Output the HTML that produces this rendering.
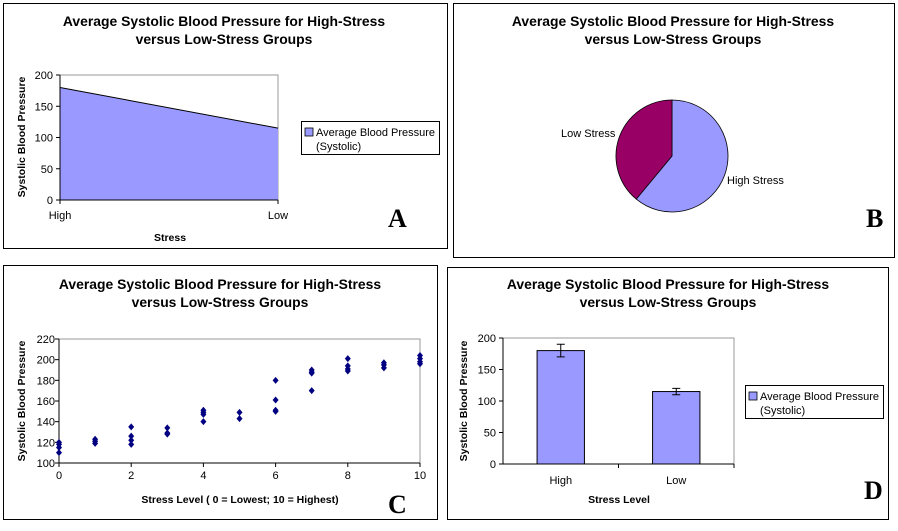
<!DOCTYPE html>
<html><head><meta charset="utf-8"><style>
body{margin:0;background:#fff;width:898px;height:526px;overflow:hidden}
svg{font-family:"Liberation Sans",Arial,sans-serif}
.t{font-weight:bold;font-size:13.9px;text-anchor:middle}
.k{font-size:11px}
.ax{font-weight:bold;font-size:10.5px}
.L{font-family:"Liberation Serif",serif;font-weight:bold;font-size:26px}
</style></head><body>
<svg id="s" width="898" height="526" xmlns="http://www.w3.org/2000/svg">
<g>
<rect x="3.5" y="3.5" width="444" height="245" fill="none" stroke="#000"/>
<text class="t" x="224" y="26">Average Systolic Blood Pressure for High-Stress</text>
<text class="t" x="224" y="44">versus Low-Stress Groups</text>
<g id="a"></g>
<rect x="301.5" y="121.5" width="138" height="33" fill="#fff" stroke="#000"/>
<rect x="305" y="128" width="8" height="8" fill="#9999ff" stroke="#000" stroke-width="0.8"/>
<text class="k" x="316" y="136">Average Blood Pressure</text>
<text class="k" x="316" y="150">(Systolic)</text>
<text class="ax" x="170" y="241" text-anchor="middle">Stress</text>
<text class="ax" transform="translate(25,137) rotate(-90)" text-anchor="middle">Systolic Blood Pressure</text>
<text class="L" x="388" y="227">A</text>
</g>
<g>
<rect x="453.5" y="3.5" width="441" height="254" fill="none" stroke="#000"/>
<text class="t" x="673" y="26">Average Systolic Blood Pressure for High-Stress</text>
<text class="t" x="673" y="44">versus Low-Stress Groups</text>
<g id="b"></g>
<text class="k" x="561" y="137">Low Stress</text>
<text class="k" x="727" y="184">High Stress</text>
<text class="L" x="866" y="227">B</text>
</g>
<g>
<rect x="3.5" y="265.5" width="434" height="254" fill="none" stroke="#000"/>
<text class="t" x="220" y="289">Average Systolic Blood Pressure for High-Stress</text>
<text class="t" x="220" y="307">versus Low-Stress Groups</text>
<g id="c"></g>
<text class="ax" x="240" y="503" text-anchor="middle">Stress Level  ( 0 = Lowest; 10 = Highest)</text>
<text class="ax" transform="translate(25,401) rotate(-90)" text-anchor="middle">Systolic Blood Pressure</text>
<text class="L" x="388" y="513">C</text>
</g>
<g>
<rect x="447.5" y="267.5" width="441" height="252" fill="none" stroke="#000"/>
<text class="t" x="668" y="289">Average Systolic Blood Pressure for High-Stress</text>
<text class="t" x="668" y="307">versus Low-Stress Groups</text>
<g id="d"></g>
<rect x="745.5" y="385.5" width="138" height="33" fill="#fff" stroke="#000"/>
<rect x="749" y="392" width="8" height="8" fill="#9999ff" stroke="#000" stroke-width="0.8"/>
<text class="k" x="760" y="400">Average Blood Pressure</text>
<text class="k" x="760" y="414">(Systolic)</text>
<text class="ax" x="619" y="503" text-anchor="middle">Stress Level</text>
<text class="ax" transform="translate(467,401) rotate(-90)" text-anchor="middle">Systolic Blood Pressure</text>
<text class="L" x="864" y="499">D</text>
</g>
</svg>
<script>
const groups=["High","Low"];
const avgBP=[180,115];
const errBP=[10,5];
const axTicksA=[0,50,100,150,200];
const stressX=[0,0,0,0,1,1,1,2,2,2,2,3,3,3,4,4,4,4,5,5,6,6,6,6,7,7,7,7,8,8,8,8,9,9,9,10,10,10,10];
const stressY=[120,118,115,110,123,121,119,135,126,122,118,134,129,128,151,149,147,140,149,143,180,161,151,150,190,188,187,170,201,194,191,189,197,195,192,204,201,198,196];
const xTicksC=[0,2,4,6,8,10];
const yTicksC=[100,120,140,160,180,200,220];
const pieLabels=["High Stress","Low Stress"];
const NS="http://www.w3.org/2000/svg";
function mk(p,t,a){const e=document.createElementNS(NS,t);for(const k in a)e.setAttribute(k,a[k]);p.appendChild(e);return e;}
function txt(p,x,y,s,anc){const e=mk(p,"text",{x:x,y:y,class:"k","text-anchor":anc||"middle"});e.textContent=s;return e;}
// Panel A
(function(){const g=document.getElementById("a");const x0=60,x1=278,yb=200,yt=75;
const ys=v=>yb-(v/200)*(yb-yt);const xs=i=>x0+i*(x1-x0)/(groups.length-1);
mk(g,"rect",{x:x0,y:yt,width:x1-x0,height:yb-yt,fill:"none",stroke:"#999"});
let d="M"+xs(0)+","+yb;groups.forEach((c,i)=>d+=" L"+xs(i)+","+ys(avgBP[i]));d+=" L"+xs(groups.length-1)+","+yb+"Z";
const ar=mk(g,"path",{d:d,fill:"#9999ff"});


let l="";groups.forEach((c,i)=>l+=(i?" L":"M")+xs(i)+","+ys(avgBP[i]));mk(g,"path",{d:l,fill:"none",stroke:"#000"});
mk(g,"line",{x1:x0,y1:yt,x2:x0,y2:yb,stroke:"#000"});mk(g,"line",{x1:x0,y1:yb,x2:x1,y2:yb,stroke:"#000"});
axTicksA.forEach(v=>{mk(g,"line",{x1:x0-4,y1:ys(v),x2:x0,y2:ys(v),stroke:"#000"});txt(g,x0-7,ys(v)+4,v,"end");});
groups.forEach((c,i)=>{mk(g,"line",{x1:xs(i),y1:yb,x2:xs(i),y2:yb+4,stroke:"#000"});txt(g,xs(i),yb+19,c);});})();
// Panel B
(function(){const g=document.getElementById("b");const cx=672,cy=156,r=56;const tot=avgBP.reduce((a,b)=>a+b,0);
const cols=["#9999ff","#990066"];let a=0;
avgBP.forEach((v,i)=>{const a2=a+v/tot*2*Math.PI;const p1=[cx+r*Math.sin(a),cy-r*Math.cos(a)],p2=[cx+r*Math.sin(a2),cy-r*Math.cos(a2)];
const s=mk(g,"path",{d:`M${cx},${cy} L${p1[0]},${p1[1]} A${r},${r} 0 ${a2-a>Math.PI?1:0} 1 ${p2[0]},${p2[1]} Z`,fill:cols[i],stroke:"#000","stroke-width":"0.8"});


a=a2;});})();
// Panel C
(function(){const g=document.getElementById("c");const x0=59,x1=420,yb=463,yt=339;
const xs=v=>x0+v/10*(x1-x0);const ys=v=>yb-(v-100)/120*(yb-yt);
mk(g,"rect",{x:x0,y:yt,width:x1-x0,height:yb-yt,fill:"none",stroke:"#999"});
mk(g,"line",{x1:x0,y1:yt,x2:x0,y2:yb,stroke:"#000"});mk(g,"line",{x1:x0,y1:yb,x2:x1,y2:yb,stroke:"#000"});
yTicksC.forEach(v=>{mk(g,"line",{x1:x0-4,y1:ys(v),x2:x0,y2:ys(v),stroke:"#000"});txt(g,x0-4,ys(v)+4,v,"end");});
xTicksC.forEach(v=>{mk(g,"line",{x1:xs(v),y1:yb,x2:xs(v),y2:yb+4,stroke:"#000"});txt(g,xs(v),yb+16,v);});
stressX.forEach((xv,i)=>{const x=xs(xv),y=ys(stressY[i]);
const p=mk(g,"path",{d:`M${x},${y-3.5} L${x+3},${y} L${x},${y+3.5} L${x-3},${y}Z`,fill:"#000080"});

});})();
// Panel D
(function(){const g=document.getElementById("d");const x0=503,x1=734,yb=464,yt=338;
const ys=v=>yb-v/200*(yb-yt);const bw=(x1-x0)/groups.length;
mk(g,"rect",{x:x0,y:yt,width:x1-x0,height:yb-yt,fill:"none",stroke:"#999"});
mk(g,"line",{x1:x0,y1:yt,x2:x0,y2:yb,stroke:"#000"});mk(g,"line",{x1:x0,y1:yb,x2:x1,y2:yb,stroke:"#000"});
axTicksA.forEach(v=>{mk(g,"line",{x1:x0-4,y1:ys(v),x2:x0,y2:ys(v),stroke:"#000"});txt(g,x0-7,ys(v)+4,v,"end");});
groups.forEach((c,i)=>{const cx=x0+bw*(i+0.5);mk(g,"line",{x1:x0+bw*(i+1),y1:yb,x2:x0+bw*(i+1),y2:yb+4,stroke:"#000"});
const b=mk(g,"rect",{x:cx-bw*0.205,y:ys(avgBP[i]),width:bw*0.41,height:yb-ys(avgBP[i]),fill:"#9999ff",stroke:"#000"});


const t=ys(avgBP[i]+errBP[i]),bo=ys(avgBP[i]-errBP[i]);
mk(g,"path",{d:`M${cx},${t} V${bo} M${cx-4},${t} H${cx+4} M${cx-4},${bo} H${cx+4}`,stroke:"#000",fill:"none"});
txt(g,cx,yb+20,c);});})();
</script>
</body></html>
